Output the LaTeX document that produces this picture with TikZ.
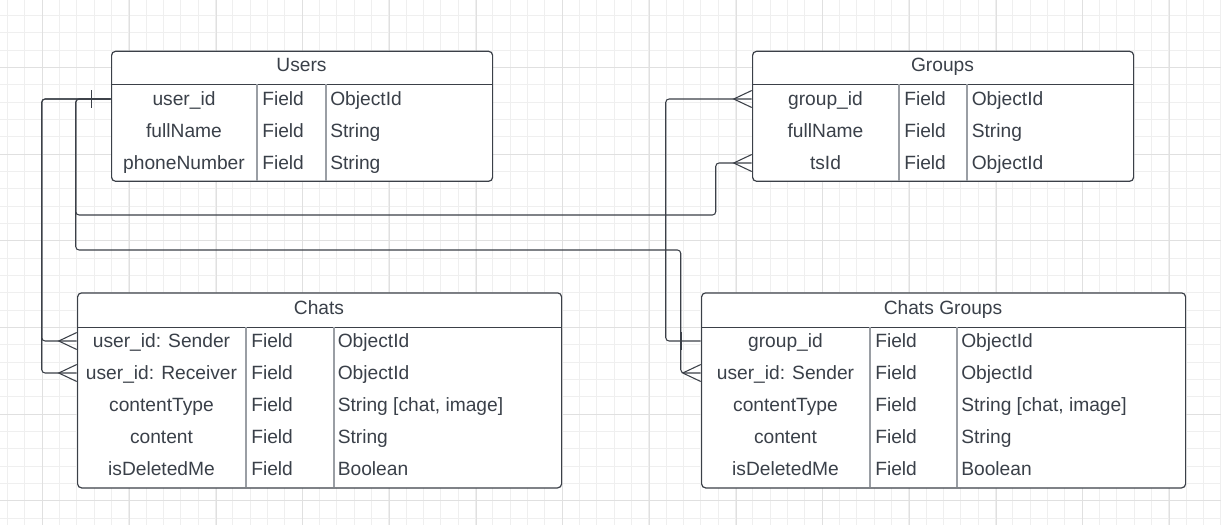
\documentclass[tikz,border=0pt]{standalone}
\usepackage{fontspec}
\setmainfont{Liberation Sans}
\usepackage{tikz}

\definecolor{edge}{HTML}{3B4048}
\definecolor{ink}{HTML}{3A4049}
\definecolor{colrule}{HTML}{9A9EA4}
\definecolor{gridminor}{HTML}{EFEFEF}
\definecolor{gridmajor}{HTML}{E0E0E0}

\begin{document}
\begin{tikzpicture}[
  x=0.75pt, y=-0.75pt,
  tablebox/.style={draw=edge, line width=0.9pt, rounded corners=3pt, fill=white, inner sep=0pt, anchor=north west},
  tabtitle/.style={text=ink, font=\fontsize{14.4}{16}\selectfont, inner sep=0pt, text height=10.3pt, text depth=0pt},
  keycell/.style={text=ink, font=\fontsize{14.4}{16}\selectfont, inner sep=0pt, text height=10.3pt, text depth=0pt},
  valcell/.style={keycell, anchor=west},
  hrule/.style={draw=edge, line width=0.8pt},
  colline/.style={draw=colrule, line width=0.8pt},
  link/.style={draw=edge, line width=0.8pt, rounded corners=2.5pt},
  foot/.style={draw=edge, line width=0.8pt},
  many/.pic={\draw[foot] (0,-8.5) -- (-18,0) -- (0,8.5);},
  one/.pic={\draw[foot] (-19,-9) -- (-19,9);}
]
\useasboundingbox (0,0) rectangle (1221,525);
\fill[white] (0,0) rectangle (1221,525);

% grid
\foreach \i in {0,...,70}
  \draw[gridminor, line width=0.6pt] (7.33+17.333*\i,0) -- (7.33+17.333*\i,525);
\foreach \i in {0,...,29}
  \draw[gridminor, line width=0.6pt] (0,15.33+17.333*\i) -- (1221,15.33+17.333*\i);
\foreach \i in {0,...,13}
  \draw[gridmajor, line width=0.6pt] (42.67+86.667*\i,0) -- (42.67+86.667*\i,525);
\foreach \i in {0,...,5}
  \draw[gridmajor, line width=0.6pt] (0,67.33+86.667*\i) -- (1221,67.33+86.667*\i);

% Users
\node [tablebox, minimum width=381*0.75pt, minimum height=130*0.75pt] (users) at (111,50.7) {};
\draw[hrule] (111,84.3) -- (492,84.3);
\draw[colline] (257,84.3) -- (257,180.7) (326,84.3) -- (326,180.7);
\node [tabtitle] (users-t) at (301.5,65) {Users};
\node [keycell, minimum width=146*0.75pt] (u-id) at (184,99) {user\_id};
\node [keycell, minimum width=146*0.75pt] (u-name) at (184,131) {fullName};
\node [keycell, minimum width=146*0.75pt] (u-phone) at (184,163) {phoneNumber};
\node [valcell] (u-f1) at (262,99) {Field};
\node [valcell] (u-f2) at (262,131) {Field};
\node [valcell] (u-f3) at (262,163) {Field};
\node [valcell] (u-t1) at (330,99) {ObjectId};
\node [valcell] (u-t2) at (330,131) {String};
\node [valcell] (u-t3) at (330,163) {String};

% Groups
\node [tablebox, minimum width=381*0.75pt, minimum height=130*0.75pt] (groups) at (752,50.7) {};
\draw[hrule] (752,84.3) -- (1133,84.3);
\draw[colline] (899,84.3) -- (899,180.7) (967,84.3) -- (967,180.7);
\node [tabtitle] (groups-t) at (942.5,65) {Groups};
\node [keycell, minimum width=147*0.75pt] (g-id) at (825.5,99) {group\_id};
\node [keycell, minimum width=147*0.75pt] (g-name) at (825.5,131) {fullName};
\node [keycell, minimum width=147*0.75pt] (g-ts) at (825.5,163) {tsId};
\node [valcell] (g-f1) at (904,99) {Field};
\node [valcell] (g-f2) at (904,131) {Field};
\node [valcell] (g-f3) at (904,163) {Field};
\node [valcell] (g-t1) at (971.5,99) {ObjectId};
\node [valcell] (g-t2) at (971.5,131) {String};
\node [valcell] (g-t3) at (971.5,163) {ObjectId};

% Chats
\node [tablebox, minimum width=484*0.75pt, minimum height=195*0.75pt] (chats) at (77,292.3) {};
\draw[hrule] (77,327.3) -- (561,327.3);
\draw[colline] (246,327.3) -- (246,487.3) (334,327.3) -- (334,487.3);
\node [tabtitle] (chats-t) at (319,308) {Chats};
\node [keycell, minimum width=169*0.75pt] (c-snd) at (161.5,341) {user\_id: Sender};
\node [keycell, minimum width=169*0.75pt] (c-rcv) at (161.5,373) {user\_id: Receiver};
\node [keycell, minimum width=169*0.75pt] (c-type) at (161.5,405) {contentType};
\node [keycell, minimum width=169*0.75pt] (c-cont) at (161.5,437) {content};
\node [keycell, minimum width=169*0.75pt] (c-del) at (161.5,469) {isDeletedMe};
\node [valcell] (c-f1) at (251,341) {Field};
\node [valcell] (c-f2) at (251,373) {Field};
\node [valcell] (c-f3) at (251,405) {Field};
\node [valcell] (c-f4) at (251,437) {Field};
\node [valcell] (c-f5) at (251,469) {Field};
\node [valcell] (c-t1) at (337.5,341) {ObjectId};
\node [valcell] (c-t2) at (337.5,373) {ObjectId};
\node [valcell] (c-t3) at (337.5,405) {String [chat, image]};
\node [valcell] (c-t4) at (337.5,437) {String};
\node [valcell] (c-t5) at (337.5,469) {Boolean};

% Chats Groups
\node [tablebox, minimum width=484*0.75pt, minimum height=195*0.75pt] (cgroups) at (701,292.3) {};
\draw[hrule] (701,327.3) -- (1185,327.3);
\draw[colline] (870,327.3) -- (870,487.3) (957,327.3) -- (957,487.3);
\node [tabtitle] (cgroups-t) at (943,308) {Chats Groups};
\node [keycell, minimum width=169*0.75pt] (cg-id) at (785.5,341) {group\_id};
\node [keycell, minimum width=169*0.75pt] (cg-snd) at (785.5,373) {user\_id: Sender};
\node [keycell, minimum width=169*0.75pt] (cg-type) at (785.5,405) {contentType};
\node [keycell, minimum width=169*0.75pt] (cg-cont) at (785.5,437) {content};
\node [keycell, minimum width=169*0.75pt] (cg-del) at (785.5,469) {isDeletedMe};
\node [valcell] (cg-f1) at (875,341) {Field};
\node [valcell] (cg-f2) at (875,373) {Field};
\node [valcell] (cg-f3) at (875,405) {Field};
\node [valcell] (cg-f4) at (875,437) {Field};
\node [valcell] (cg-f5) at (875,469) {Field};
\node [valcell] (cg-t1) at (961,341) {ObjectId};
\node [valcell] (cg-t2) at (961,373) {ObjectId};
\node [valcell] (cg-t3) at (961,405) {String [chat, image]};
\node [valcell] (cg-t4) at (961,437) {String};
\node [valcell] (cg-t5) at (961,469) {Boolean};

% connectors
\draw[link] (u-id.west) -- ++(-69,0) |- (c-snd.west);
\draw[link] (u-id.west) -- ++(-69,0) |- (c-rcv.west);
\draw[link] (u-id.west) -- ++(-35,0) -- ++(0,116) -- ++(640,0) |- (g-ts.west);
\draw[link] (u-id.west) -- ++(-35,0) -- ++(0,151) -- ++(605,0) |- (cg-snd.west);
\draw[link] (g-id.west) -- ++(-86,0) |- (cg-id.west);

% ends
\pic at (u-id.west) {one};
\pic at (cg-id.west) {one};
\pic at (c-snd.west) {many};
\pic at (c-rcv.west) {many};
\pic at (g-id.west) {many};
\pic at (g-ts.west) {many};
\pic at (cg-snd.west) {many};
\end{tikzpicture}
\end{document}
